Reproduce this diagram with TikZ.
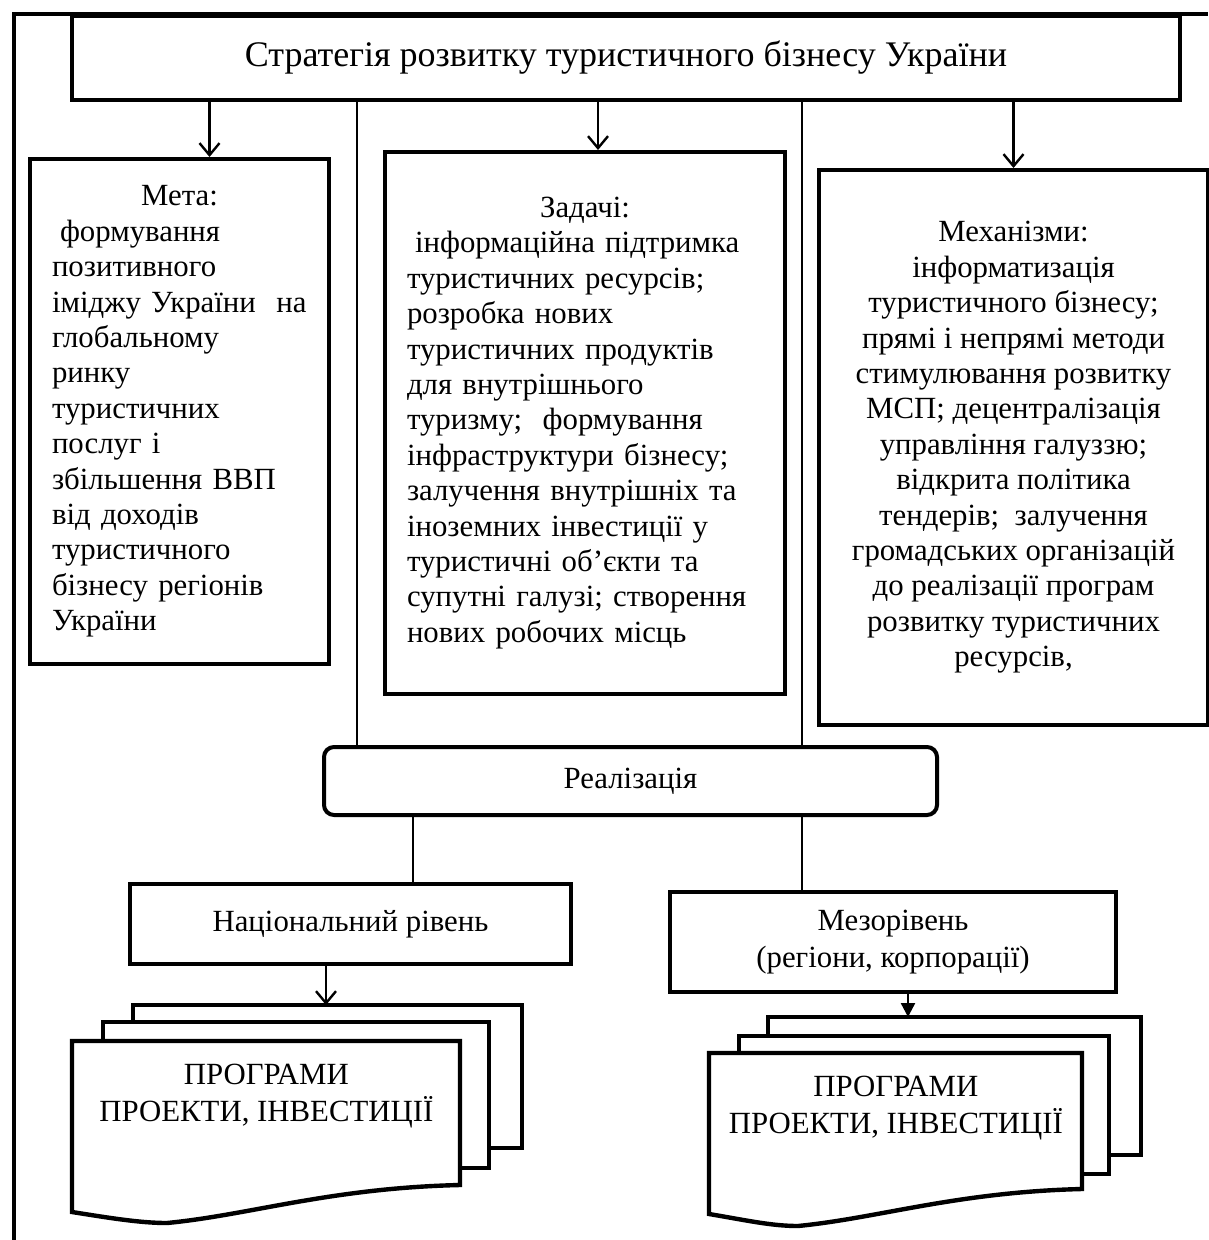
\documentclass[tikz,border=0pt]{standalone}
\usepackage{fontspec}
\setmainfont{Liberation Serif}
\usepackage{tikz}
\usetikzlibrary{arrows.meta,positioning,calc,backgrounds}

\newcommand{\boxtextfont}{\fontsize{15.4pt}{17.7pt}\selectfont}
\newcommand{\stratfont}{\fontsize{18pt}{21.6pt}\selectfont}
\newcommand{\progfont}{\fontsize{15.4pt}{18.5pt}\selectfont}

\begin{document}
\begin{tikzpicture}[
  x=0.5pt, y=-0.5pt,
  >={Straight Barb[length=6pt,width=10pt]},
  % Styles
  box/.style={draw, line width=2pt, inner sep=0pt},
  txt/.style={box, anchor=north west, align=left, inner xsep=11pt, font=\boxtextfont},
  lvl/.style={box, anchor=north west, align=center, font=\boxtextfont},
  prog/.style={anchor=north west, align=center, inner sep=0pt, font=\progfont},
  page/.style={draw, line width=2.2pt, fill=white},
  link/.style={line width=0.9pt},
  flow/.style={->, line width=1.2pt}
]
\useasboundingbox (0,0) rectangle (1208,1240);

% outer frame
\draw[line width=2pt] (14,1240) -- (14,14) -- (1208,14);

% --- 1. Strategy ---
\node[box, anchor=north west, minimum width=554pt, minimum height=42pt, font=\stratfont]
  (strat) at (70,14) {Стратегія розвитку туристичного бізнесу України};

% --- 2. Goal, tasks, mechanisms ---
\node[txt, text width=127.5pt, minimum height=252.5pt] (goal) at (28,157)
  {{\centering\noindent Мета:\par}\raggedright\noindent\hspace*{4pt}формування\\
   позитивного\\ іміджу України\ \ на\\ глобальному\\ ринку\\ туристичних\\
   послуг і\\ збільшення ВВП\\ від доходів\\ туристичного\\
   бізнесу регіонів\\ України};
\node[txt, text width=178pt, minimum height=271pt] (task) at (383,150)
  {{\centering\noindent Задачі:\par}\raggedright\noindent\hspace*{4pt}інформаційна підтримка\\
   туристичних ресурсів;\\ розробка нових\\ туристичних продуктів\\
   для внутрішнього\\ туризму;\ \ формування\\ інфраструктури бізнесу;\\
   залучення внутрішніх та\\ іноземних інвестиції у\\ туристичні об’єкти та\\
   супутні галузі; створення\\ нових робочих місць};
\node[lvl, minimum width=194.5pt, minimum height=277.5pt] (mech) at (817,168)
  {Механізми:\\ інформатизація\\ туристичного бізнесу;\\ прямі і непрямі методи\\
   стимулювання розвитку\\ МСП; децентралізація\\ управління галуззю;\\
   відкрита політика\\ тендерів;\ \ залучення\\ громадських організацій\\
   до реалізації програм\\ розвитку туристичних\\ ресурсів,};

% --- 3. Realisation ---
\node[box, rounded corners=5pt, anchor=north west, minimum width=306.5pt,
  minimum height=34pt, font=\boxtextfont] (real) at (322,745) {Реалізація};

% --- 4. Levels ---
\node[lvl, minimum width=220.5pt, minimum height=40pt] (nat) at (128,882)
  {Національний рівень};
\node[lvl, minimum width=223pt, minimum height=50pt, font=\progfont] (meso) at (668,890)
  {Мезорівень\\(регіони, корпорації)};

% --- 5. Programmes ---
\node[prog, minimum width=194pt, minimum height=55pt] (natdoc) at (72,1041)
  {ПРОГРАМИ\\ПРОЕКТИ, ІНВЕСТИЦІЇ};
\node[prog, minimum width=186.5pt, minimum height=55pt] (mesodoc) at (709,1053)
  {ПРОГРАМИ\\ПРОЕКТИ, ІНВЕСТИЦІЇ};

\begin{scope}[on background layer]
  \begin{scope}[shift={(natdoc.north west)}]
    \draw[page] (61,-36) rectangle (450,107);
    \draw[page] (31,-19) rectangle (417,127);
    \draw[page] (0,0) -- (388,0) -- (388,144)
      .. controls (258,147) and (178,174) .. (95,182)
      .. controls (68,182) and (38,177) .. (0,171) -- cycle;
    \coordinate (natin) at (254,-36);
  \end{scope}
  \begin{scope}[shift={(mesodoc.north west)}]
    \draw[page] (59,-36) rectangle (432,102);
    \draw[page] (30,-17) rectangle (400,121);
    \draw[page] (0,0) -- (373,0) -- (373,136)
      .. controls (248,139) and (170,165) .. (89,173)
      .. controls (62,173) and (36,167) .. (0,161) -- cycle;
    \coordinate (mesoin) at (199,-36);
  \end{scope}
\end{scope}

% --- 6. Connectors ---
\coordinate (s1) at ($(goal.north east)!0.5!(task.north west)$);
\coordinate (s2) at ($(task.north east)!0.5!(mech.north west)$);
\coordinate (goalin) at ([xshift=15pt]goal.north);
\coordinate (taskin) at ([xshift=6.5pt]task.north);
\coordinate (r1) at ([xshift=45.5pt]real.south west);

\draw[flow] (strat.south -| goalin) -- (goalin);
\draw[flow] (strat.south -| taskin) -- (taskin);
\draw[flow] (strat.south -| mech.north) -- (mech.north);
\draw[link] (strat.south -| s1) -- (real.north -| s1);
\draw[link] (strat.south -| s2) -- (real.north -| s2);

\draw[link] (real.south -| r1) -- (nat.north -| r1);
\draw[link] (real.south -| s2) -- (meso.north -| s2);
\draw[flow] (nat.south -| natin) -- (natin);
\draw[line width=1.2pt, -{Triangle[length=7pt,width=7pt]}] (meso.south -| mesoin) -- (mesoin);

\end{tikzpicture}
\end{document}
